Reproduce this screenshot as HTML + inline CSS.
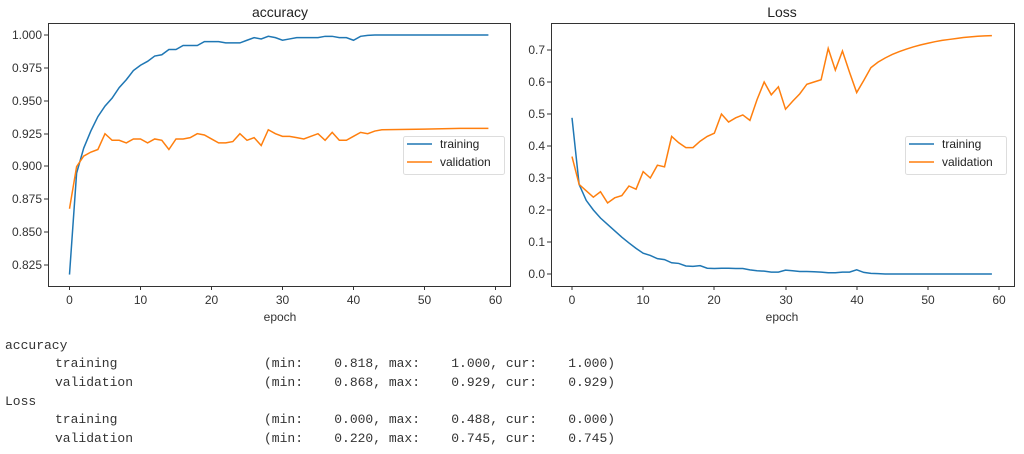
<!DOCTYPE html>
<html><head><meta charset="utf-8"><style>
body{margin:0;background:#fff;width:1024px;height:454px;overflow:hidden;position:relative}
svg{position:absolute;left:0;top:0}
.t{font-family:"Liberation Mono",monospace;font-size:13px;color:#333;position:absolute;white-space:pre;line-height:16px}
</style></head><body>
<svg width="1024" height="330" font-family="Liberation Sans, DejaVu Sans, sans-serif" font-size="12" fill="#333">
<!-- LEFT -->
<text x="280" y="17" font-size="14" text-anchor="middle" fill="#222">accuracy</text>
<g stroke="#333" stroke-width="1">
<line x1="69.5" y1="286" x2="69.5" y2="290"/><line x1="140.5" y1="286" x2="140.5" y2="290"/><line x1="211.5" y1="286" x2="211.5" y2="290"/><line x1="282.5" y1="286" x2="282.5" y2="290"/><line x1="353.5" y1="286" x2="353.5" y2="290"/><line x1="424.5" y1="286" x2="424.5" y2="290"/><line x1="495.5" y1="286" x2="495.5" y2="290"/>
<line x1="44" y1="35" x2="48" y2="35"/><line x1="44" y1="68" x2="48" y2="68"/><line x1="44" y1="101" x2="48" y2="101"/><line x1="44" y1="134" x2="48" y2="134"/><line x1="44" y1="166" x2="48" y2="166"/><line x1="44" y1="199" x2="48" y2="199"/><line x1="44" y1="232" x2="48" y2="232"/><line x1="44" y1="265" x2="48" y2="265"/>
</g>
<g text-anchor="middle"><text x="69.5" y="304">0</text><text x="140.5" y="304">10</text><text x="211.5" y="304">20</text><text x="282.5" y="304">30</text><text x="353.5" y="304">40</text><text x="424.5" y="304">50</text><text x="495.5" y="304">60</text><text x="280" y="321">epoch</text></g>
<g text-anchor="end"><text x="42" y="39">1.000</text><text x="42" y="72">0.975</text><text x="42" y="105">0.950</text><text x="42" y="138">0.925</text><text x="42" y="170">0.900</text><text x="42" y="203">0.875</text><text x="42" y="236">0.850</text><text x="42" y="269">0.825</text></g>
<g transform="translate(69.5,1351) scale(7.1,-1316)" fill="none" stroke-width="1.5">
<polyline vector-effect="non-scaling-stroke" stroke="#1f77b4" points="0,0.818 1,0.895 2,0.914 3,0.927 4,0.938 5,0.946 6,0.952 7,0.960 8,0.966 9,0.973 10,0.977 11,0.980 12,0.984 13,0.985 14,0.989 15,0.989 16,0.992 17,0.992 18,0.992 19,0.995 20,0.995 21,0.995 22,0.994 23,0.994 24,0.994 25,0.996 26,0.998 27,0.997 28,0.999 29,0.998 30,0.996 31,0.997 32,0.998 33,0.998 34,0.998 35,0.998 36,0.999 37,0.999 38,0.998 39,0.998 40,0.996 41,0.999 42,0.9997 43,1 59,1"/>
<polyline vector-effect="non-scaling-stroke" stroke="#ff7f0e" points="0,0.868 1,0.900 2,0.908 3,0.911 4,0.913 5,0.925 6,0.920 7,0.920 8,0.918 9,0.921 10,0.921 11,0.918 12,0.921 13,0.920 14,0.913 15,0.921 16,0.921 17,0.922 18,0.925 19,0.924 20,0.921 21,0.918 22,0.918 23,0.919 24,0.925 25,0.920 26,0.922 27,0.916 28,0.928 29,0.925 30,0.923 31,0.923 32,0.922 33,0.921 34,0.923 35,0.925 36,0.920 37,0.926 38,0.920 39,0.920 40,0.923 41,0.926 42,0.925 43,0.927 44,0.928 50,0.9285 55,0.929 59,0.929"/>
</g>
<rect x="48.5" y="23.5" width="462" height="263" fill="none" stroke="#333"/>
<rect x="403.5" y="136.5" width="101" height="38" rx="2" fill="#fff" fill-opacity="0.85" stroke="#ddd"/>
<line x1="407" y1="144" x2="432" y2="144" stroke="#1f77b4" stroke-width="1.5"/><line x1="407" y1="162" x2="432" y2="162" stroke="#ff7f0e" stroke-width="1.5"/>
<text x="440" y="148" fill="#222">training</text><text x="440" y="166" fill="#222">validation</text>

<!-- RIGHT -->
<text x="782" y="17" font-size="14" text-anchor="middle" fill="#222">Loss</text>
<g stroke="#333" stroke-width="1">
<line x1="572" y1="286" x2="572" y2="290"/><line x1="643" y1="286" x2="643" y2="290"/><line x1="714" y1="286" x2="714" y2="290"/><line x1="786" y1="286" x2="786" y2="290"/><line x1="857" y1="286" x2="857" y2="290"/><line x1="928" y1="286" x2="928" y2="290"/><line x1="999" y1="286" x2="999" y2="290"/>
<line x1="547" y1="274" x2="551" y2="274"/><line x1="547" y1="242" x2="551" y2="242"/><line x1="547" y1="210" x2="551" y2="210"/><line x1="547" y1="178" x2="551" y2="178"/><line x1="547" y1="146" x2="551" y2="146"/><line x1="547" y1="114" x2="551" y2="114"/><line x1="547" y1="82" x2="551" y2="82"/><line x1="547" y1="50" x2="551" y2="50"/>
</g>
<g text-anchor="middle"><text x="572" y="304">0</text><text x="643" y="304">10</text><text x="714" y="304">20</text><text x="786" y="304">30</text><text x="857" y="304">40</text><text x="928" y="304">50</text><text x="999" y="304">60</text><text x="782" y="321">epoch</text></g>
<g text-anchor="end"><text x="545" y="278">0.0</text><text x="545" y="246">0.1</text><text x="545" y="214">0.2</text><text x="545" y="182">0.3</text><text x="545" y="150">0.4</text><text x="545" y="118">0.5</text><text x="545" y="86">0.6</text><text x="545" y="54">0.7</text></g>
<g transform="translate(572,274) scale(7.117,-320)" fill="none">
<polyline vector-effect="non-scaling-stroke" stroke-width="1.5" stroke="#1f77b4" points="0,0.488 1,0.28 2,0.23 3,0.20 4,0.175 5,0.155 6,0.135 7,0.115 8,0.097 9,0.08 10,0.065 11,0.058 12,0.048 13,0.045 14,0.035 15,0.033 16,0.025 17,0.024 18,0.026 19,0.018 20,0.017 21,0.018 22,0.018 23,0.017 24,0.017 25,0.013 26,0.01 27,0.009 28,0.006 29,0.006 30,0.012 31,0.01 32,0.008 33,0.008 34,0.007 35,0.006 36,0.004 37,0.004 38,0.006 39,0.006 40,0.013 41,0.005 42,0.002 43,0.001 44,0 59,0"/>
<polyline vector-effect="non-scaling-stroke" stroke-width="1.5" stroke="#ff7f0e" points="0,0.367 1,0.28 2,0.26 3,0.24 4,0.257 5,0.222 6,0.238 7,0.245 8,0.275 9,0.265 10,0.32 11,0.30 12,0.34 13,0.335 14,0.43 15,0.41 16,0.395 17,0.395 18,0.415 19,0.43 20,0.44 21,0.50 22,0.475 23,0.488 24,0.497 25,0.48 26,0.545 27,0.60 28,0.56 29,0.585 30,0.515 31,0.54 32,0.563 33,0.593 34,0.60 35,0.607 36,0.705 37,0.637 38,0.697 39,0.63 40,0.567 41,0.605 42,0.645 43,0.662 44,0.675 45,0.686 46,0.695 47,0.703 48,0.71 49,0.716 50,0.721 51,0.726 52,0.73 53,0.733 54,0.736 55,0.739 56,0.741 57,0.743 58,0.744 59,0.745"/>
</g>
<rect x="551.5" y="23.5" width="463" height="263" fill="none" stroke="#333"/>
<rect x="905.5" y="136.5" width="101" height="38" rx="2" fill="#fff" fill-opacity="0.85" stroke="#ddd"/>
<line x1="909" y1="144" x2="934" y2="144" stroke="#1f77b4" stroke-width="1.5"/><line x1="909" y1="162" x2="934" y2="162" stroke="#ff7f0e" stroke-width="1.5"/>
<text x="942" y="148" fill="#222">training</text><text x="942" y="166" fill="#222">validation</text>
</svg>

<div class="t" style="left:5px;top:338px">accuracy</div>
<div class="t" style="left:55px;top:356px">training</div>
<div class="t" style="left:55px;top:375px">validation</div>
<div class="t" style="left:5px;top:394px">Loss</div>
<div class="t" style="left:55px;top:412px">training</div>
<div class="t" style="left:55px;top:431px">validation</div>
<div class="t" style="left:264px;top:356px">(min:    0.818, max:    1.000, cur:    1.000)</div>
<div class="t" style="left:264px;top:375px">(min:    0.868, max:    0.929, cur:    0.929)</div>
<div class="t" style="left:264px;top:412px">(min:    0.000, max:    0.488, cur:    0.000)</div>
<div class="t" style="left:264px;top:431px">(min:    0.220, max:    0.745, cur:    0.745)</div>
</body></html>
